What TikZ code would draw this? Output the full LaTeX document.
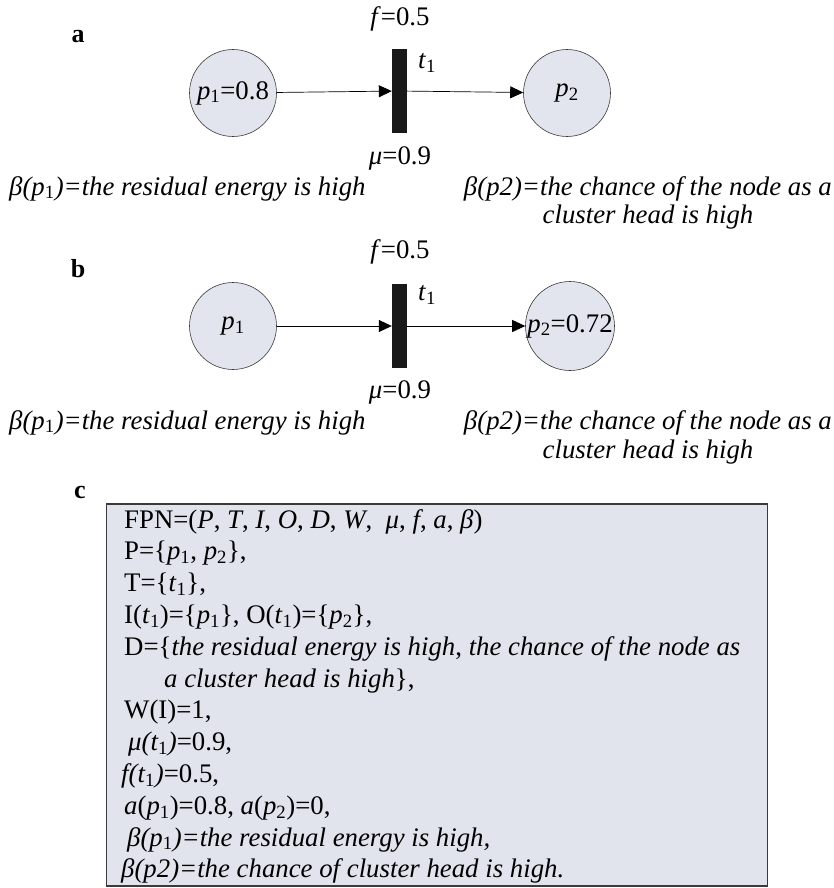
\documentclass[tikz,border=0pt]{standalone}
\usepackage{fontspec}
\setmainfont{Liberation Serif}
\usetikzlibrary{arrows.meta}
\definecolor{placefill}{HTML}{E3E5EE}
\definecolor{boxfill}{HTML}{E1E4EC}
\definecolor{edgegray}{HTML}{3A3A3A}
\newcommand{\ix}[1]{\textit{#1}}
\newcommand{\lo}[1]{\textsubscript{\upshape #1}}
\begin{document}
\begin{tikzpicture}[x=1pt,y=-1pt,
  every node/.style={font=\fontsize{26.8}{31}\selectfont, inner sep=0pt},
  place/.style={circle, draw=edgegray, line width=0.6pt, fill=placefill, minimum size=87pt},
  bar/.style={rectangle, fill=black!90, minimum width=15pt, minimum height=84pt},
  arr/.style={line width=0.7pt, -{Triangle[length=13pt,width=12pt]}},
  panel/.style={font=\fontsize{26}{30}\selectfont\bfseries},
  line/.style={anchor=base west}]
\useasboundingbox (0,0) rectangle (833,888);

% ---------- panel a ----------
\node[panel] (la) at (78,37) {a};
\node (fa) at (400,19) {\ix{f}=0.5};
\node[bar] (ta) at (399.5,91) {};
\node[anchor=west] (tla) at (418,63) {\ix{t}\lo{1}};
\node[place] (p1a) at (233,93) {\ix{p}\lo{1}=0.8};
\node[place] (p2a) at (567,93) {\ix{p}\lo{2}};
\draw[arr] (p1a) -- (ta);
\draw[arr] (ta) -- (p2a);
\node (mua) at (400,158) {\ix{μ}=0.9};
\node[anchor=base west] (b1a) at (9,195) {\ix{β(p\lo{1})=the residual energy is high}};
\node[anchor=base east] (b2a) at (832,195) {\ix{β(p2)=the chance of the node as a}};
\node[anchor=base] (b3a) at (648,223) {\ix{cluster head is high}};

% ---------- panel b ----------
\node[panel] (lb) at (78,269) {b};
\node (fb) at (400,252) {\ix{f}=0.5};
\node[bar] (tb) at (399.5,326) {};
\node[anchor=west] (tlb) at (418,295) {\ix{t}\lo{1}};
\node[place] (p1b) at (233,326) {\ix{p}\lo{1}};
\node[place, minimum size=89pt] (p2b) at (570,326) {\ix{p}\lo{2}=0.72};
\draw[arr] (p1b) -- (tb);
\draw[arr] (tb) -- (p2b);
\node (mub) at (400,392) {\ix{μ}=0.9};
\node[anchor=base west] (b1b) at (9,429) {\ix{β(p\lo{1})=the residual energy is high}};
\node[anchor=base east] (b2b) at (832,429) {\ix{β(p2)=the chance of the node as a}};
\node[anchor=base] (b3b) at (648,458) {\ix{cluster head is high}};

% ---------- panel c ----------
\node[panel] (lc) at (80,492) {c};
\node[draw=edgegray, line width=1.6pt, fill=boxfill, anchor=north west,
      minimum width=661pt, minimum height=382pt] (box) at (105.5,503) {};
\node[line] (l1) at (124,528) {FPN=(\ix{P}, \ix{T}, \ix{I}, \ix{O}, \ix{D}, \ix{W}, \ \ix{μ}, \ix{f}, \ix{a}, \ix{β})};
\node[line] (l2) at (124,559.8) {P=\{\ix{p}\lo{1}, \ix{p}\lo{2}\},};
\node[line] (l3) at (124,591.6) {T=\{\ix{t}\lo{1}\},};
\node[line] (l4) at (124,623.4) {I(\ix{t}\lo{1})=\{\ix{p}\lo{1}\}, O(\ix{t}\lo{1})=\{\ix{p}\lo{2}\},};
\node[line] (l5) at (124,655.2) {D=\{\ix{the residual energy is high}, \ix{the chance of the node as}};
\node[line] (l6) at (164,687) {\ix{a cluster head is high}\},};
\node[line] (l7) at (124,718.8) {W(I)=1,};
\node[line] (l8) at (128,750.6) {\ix{μ(t\lo{1})}=0.9,};
\node[line] (l9) at (121,782.4) {\ix{f(t\lo{1})}=0.5,};
\node[line] (l10) at (124,814.2) {\ix{a}(\ix{p}\lo{1})=0.8, \ix{a}(\ix{p}\lo{2})=0,};
\node[line] (l11) at (127,846) {\ix{β(p\lo{1})=the residual energy is high,}};
\node[line] (l12) at (121,877.8) {\ix{β(p2)=the chance of cluster head is high.}};
\end{tikzpicture}
\end{document}
